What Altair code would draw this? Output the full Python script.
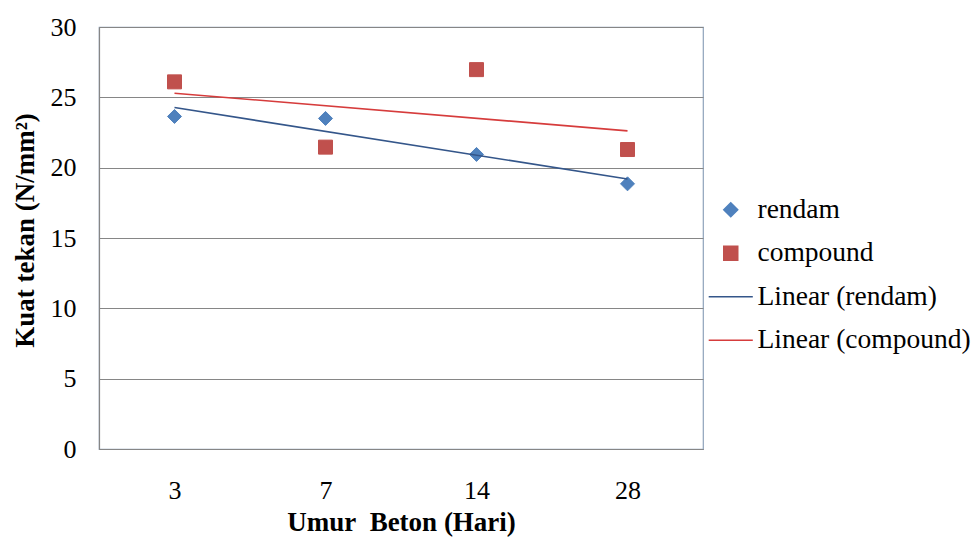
import altair as alt
import pandas as pd

ages = ["3", "7", "14", "28"]
rendam = [23.64, 23.50, 20.94, 18.85]
compound = [26.10, 21.46, 26.97, 21.29]
series_names = ["rendam", "compound"]
legend_names = ["rendam", "compound", "Linear (rendam)", "Linear (compound)"]
colors = ["#4f81bd", "#c0504d", "#34568a", "#d63c3c"]

rows = []
for name, vals in zip(series_names, [rendam, compound]):
    for i, (a, v) in enumerate(zip(ages, vals)):
        rows.append({"series": name, "age": a, "idx": i + 1, "value": v})
df = pd.DataFrame(rows)

W, H = 604, 422
FONT = "Liberation Serif"
line_path = "M-3.15,0L3.15,0"
col_scale = alt.Scale(domain=legend_names, range=colors)
shape_scale = alt.Scale(domain=legend_names, range=["diamond", "square", line_path, line_path])

label_expr = "[" + ",".join("'%s'" % a for a in ages) + "][datum.value - 1]"

x = alt.X(
    "idx:Q",
    scale=alt.Scale(domain=[0.5, 4.5], nice=False, zero=False),
    axis=alt.Axis(
        title="Umur\u00a0 Beton (Hari)", values=[1, 2, 3, 4], labelExpr=label_expr,
        grid=False, ticks=False, domainColor="#868686", domainWidth=1.2,
        labelFont=FONT, labelFontSize=26, labelColor="#000000", labelPadding=28,
        titleFont=FONT, titleFontSize=27, titleFontWeight="bold", titleColor="#000000",
        titlePadding=6,
    ),
)
y = alt.Y(
    "value:Q",
    scale=alt.Scale(domain=[0, 30], nice=False),
    axis=alt.Axis(
        title="Kuat tekan (N/mm²)", values=[0, 5, 10, 15, 20, 25, 30],
        grid=True, gridColor="#868686", gridWidth=1.2, ticks=False,
        domainColor="#868686", domainWidth=1.2,
        labelFont=FONT, labelFontSize=26, labelColor="#000000", labelPadding=23,
        titleFont=FONT, titleFontSize=27, titleFontWeight="bold", titleColor="#000000",
        titleX=-74, titleY=203, titleAngle=-90, titleBaseline="middle", titleAlign="center",
    ),
)

legend = alt.Legend(
    title=None, orient="none", legendX=618, legendY=169,
    labelFont=FONT, labelFontSize=27.5, labelColor="#000000", labelOffset=13, labelLimit=0,
    symbolSize=196, symbolStrokeWidth=1.5, rowPadding=14.5, padding=0,
)

points = alt.Chart(df).mark_point(filled=True, opacity=1, size=196, strokeWidth=1).encode(
    x=x, y=y,
    fill=alt.Fill("series:N", scale=col_scale, legend=legend),
    stroke=alt.Stroke("series:N", scale=col_scale, legend=legend),
    shape=alt.Shape("series:N", scale=shape_scale, legend=legend),
)

lines = (
    alt.Chart(df)
    .transform_regression("idx", "value", groupby=["series"])
    .transform_calculate(series="'Linear (' + datum.series + ')'")
    .mark_line(strokeWidth=1.6)
    .encode(
        x=x, y=y,
        stroke=alt.Stroke("series:N", scale=col_scale, legend=None),
        detail="series:N",
    )
)

chart = (
    alt.layer(points, lines)
    .properties(width=W, height=H, autosize=alt.AutoSizeParams(type="none"),
                padding={"left": 99, "top": 27, "right": 273, "bottom": 90},
                background="#ffffff")
    .configure_view(stroke="#8ea2bb", strokeWidth=1.2)
)

chart.save("out.html", embed_options={"renderer": "svg", "actions": False})
